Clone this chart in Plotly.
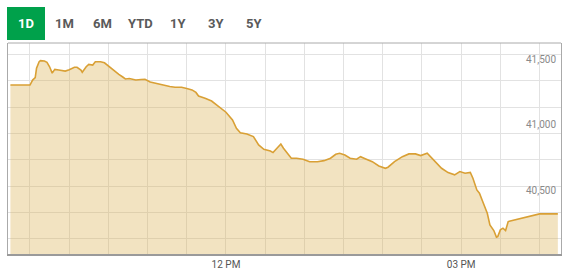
import plotly.graph_objects as go

DAY = "2024-01-01 "

times = ["09:15","09:30","09:32","09:34","09:35","09:37","09:38","09:41","09:43","09:45",
         "09:47","09:49","09:52","09:55","09:57","10:00","10:04","10:06","10:09","10:10",
         "10:13","10:15","10:18","10:20","10:24","10:27","10:29","10:31","10:33","10:35",
         "10:38","10:41","10:43","10:46","10:51","10:55","10:58","11:02","11:06","11:10",
         "11:14","11:17","11:21","11:26","11:30","11:34","11:37","11:39","11:44","11:49",
         "11:54","12:00","12:05","12:08","12:11","12:16","12:21","12:25","12:29","12:34",
         "12:36","12:39","12:42","12:44","12:47","12:50","12:54","12:59","13:04","13:10",
         "13:15","13:20","13:24","13:27","13:31","13:35","13:40","13:43","13:47","13:52",
         "13:57","14:02","14:04","14:09","14:15","14:20","14:25","14:29","14:34","14:36",
         "14:40","14:45","14:50","14:55","14:59","15:03","15:07","15:09","15:12","15:14",
         "15:17","15:20","15:22","15:25","15:27","15:28","15:30","15:32","15:34","15:36",
         "16:00","16:14"]

values = [41367,41367,41405,41423,41494,41544,41552,41549,41539,41506,
          41458,41486,41481,41476,41473,41483,41502,41502,41481,41464,
          41506,41524,41519,41544,41544,41536,41519,41506,41489,41468,
          41448,41428,41413,41417,41405,41409,41411,41390,41380,41371,
          41362,41356,41350,41350,41341,41330,41311,41284,41267,41246,
          41208,41161,41102,41039,41006,40996,40976,40913,40880,40867,
          40855,40888,40920,40888,40850,40812,40812,40805,40786,40786,
          40794,40812,40842,40850,40837,40812,40805,40824,40807,40786,
          40754,40736,40744,40786,40824,40845,40845,40832,40850,40830,
          40786,40736,40703,40686,40711,40698,40705,40661,40572,40547,
          40471,40395,40307,40264,40214,40218,40269,40282,40264,40332,
          40390,40390]

range_buttons = ["1D", "1M", "6M", "YTD", "1Y", "3Y", "5Y"]
grid_times = ["09:30","10:00","10:30","11:00","11:30","12:00","12:30","13:00",
              "13:30","14:00","14:30","15:00","15:30","16:00"]
x_labels = {"12:00": "12 PM", "15:00": "03 PM"}
y_grid = [40200, 40400, 40600, 40800, 41000, 41200, 41400, 41600]
y_labels = [40500, 41000, 41500]

W, H = 571, 277
ML, MR, MT, MB = 8, 10, 43, 23
PW, PH = W - ML - MR, H - MT - MB

def px(x):
    return (x - ML) / PW

def py(y):
    return (H - MB - y) / PH

fig = go.Figure()
fig.add_trace(go.Scatter(
    x=[DAY + t for t in times], y=values, mode="lines",
    line=dict(color="#D9A035", width=1.6),
    fill="tozeroy", fillcolor="rgba(218,175,78,0.35)",
    hoverinfo="skip",
))

for v in y_labels:
    fig.add_annotation(x=px(558), xref="paper", y=v, yref="y",
                       text=f"{v:,}", showarrow=False, xanchor="right",
                       yanchor="bottom", yshift=1,
                       font=dict(family="Roboto", size=10, color="#8a8a8a"))

# range selector buttons
btn_x = [26, 64.3, 102.3, 140, 178.3, 216, 254]
fig.add_shape(type="rect", xref="paper", yref="paper",
              x0=px(7), x1=px(45), y0=py(40), y1=py(7),
              fillcolor="#00A14B", line=dict(width=0), layer="above")
for i, (b, bx) in enumerate(zip(range_buttons, btn_x)):
    fig.add_annotation(x=px(bx), y=py(23.5), xref="paper", yref="paper",
                       text=f"<b>{b}</b>", showarrow=False,
                       xanchor="center", yanchor="middle",
                       font=dict(family="Roboto", size=13,
                                 color="#ffffff" if i == 0 else "#5a5a5a"))

# top border
fig.add_shape(type="line", xref="paper", yref="paper", x0=0, x1=1, y0=1, y1=1,
              line=dict(color="#aaaaaa", width=1))

fig.update_layout(
    width=W, height=H, margin=dict(l=ML, r=MR, t=MT, b=MB),
    paper_bgcolor="white", plot_bgcolor="white", showlegend=False,
    xaxis=dict(
        type="date",
        range=[DAY + "09:13:10", DAY + "16:16:25"],
        tickmode="array",
        tickvals=[DAY + t for t in grid_times],
        ticktext=[x_labels.get(t, "") for t in grid_times],
        showgrid=True, gridcolor="#e2e2e2", gridwidth=1,
        showline=True, linecolor="#9a9a9a", linewidth=2,
        ticks="", tickfont=dict(family="Roboto", size=10, color="#555555"),
        zeroline=False, fixedrange=True,
    ),
    yaxis=dict(
        range=[40086, 41686],
        tickmode="array", tickvals=y_grid, showticklabels=False,
        showgrid=True, gridcolor="#e2e2e2", gridwidth=1,
        showline=True, linecolor="#aaaaaa", linewidth=1, mirror=True,
        ticks="", zeroline=False, fixedrange=True,
    ),
)

fig.write_html("out.html")
